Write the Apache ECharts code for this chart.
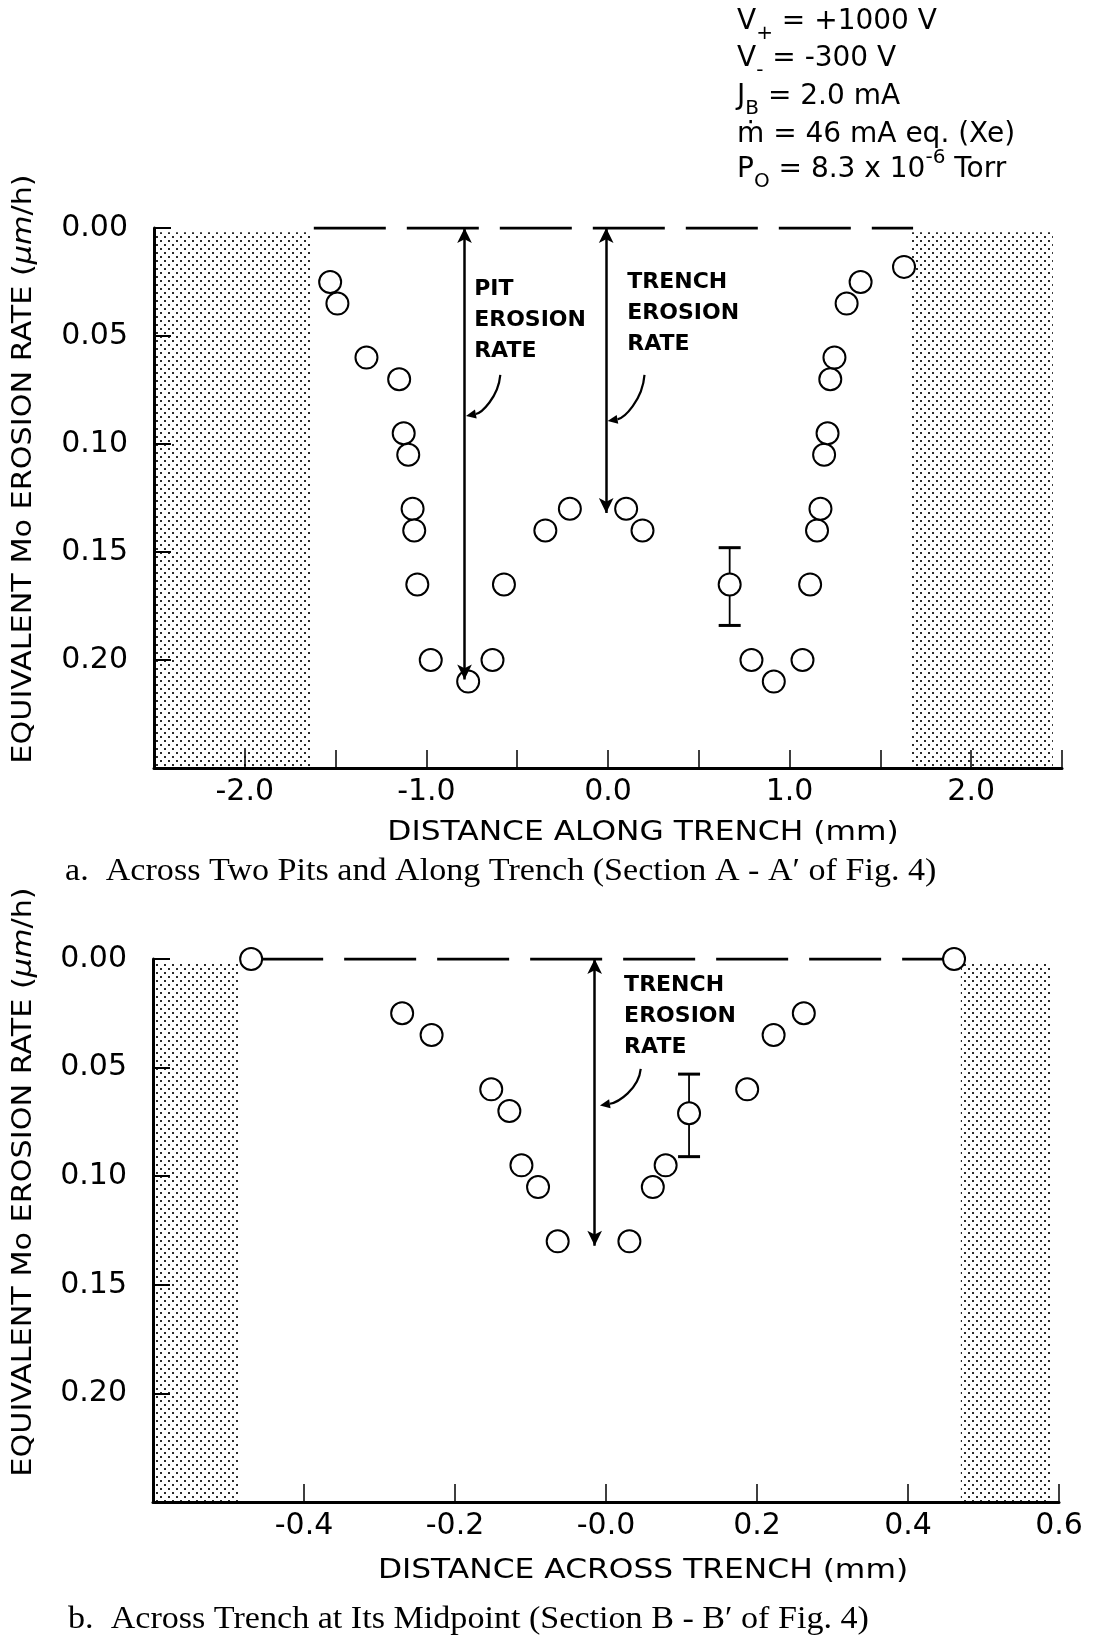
<!DOCTYPE html>
<html>
<head>
<meta charset="utf-8">
<script src="https://cdn.jsdelivr.net/npm/echarts@6/dist/echarts.min.js"></script>
<style>
  html, body { margin: 0; padding: 0; background: #fff; }
  #main { width: 1095px; height: 1642px; }
</style>
</head>
<body>
<div id="main"></div>
<script>
// a. section A-A' : across two pits and along trench
var alongX    = [-1.53, -1.49, -1.33, -1.15, -1.125, -1.10, -1.076, -1.067, -1.05, -0.976, -0.77, -0.636, -0.573, -0.345, -0.21,
                 0.10, 0.19, 0.67, 0.79, 0.913, 1.071, 1.113, 1.151, 1.17, 1.19, 1.209, 1.224, 1.247, 1.314, 1.391, 1.63];
var alongRate = [0.025, 0.035, 0.060, 0.070, 0.095, 0.105, 0.130, 0.140, 0.165, 0.200, 0.210, 0.200, 0.165, 0.140, 0.130,
                 0.130, 0.140, 0.165, 0.200, 0.210, 0.200, 0.165, 0.140, 0.130, 0.105, 0.095, 0.070, 0.060, 0.035, 0.025, 0.018];
var alongErrX = [0.67], alongErrLow = [0.148], alongErrHigh = [0.184];

// b. section B-B' : across trench at its midpoint
var acrossX    = [-0.47, -0.27, -0.231, -0.152, -0.128, -0.112, -0.09, -0.064, 0.031, 0.062, 0.079, 0.110, 0.187, 0.222, 0.262, 0.461];
var acrossRate = [0.000, 0.025, 0.035, 0.060, 0.070, 0.095, 0.105, 0.130, 0.130, 0.105, 0.095, 0.071, 0.060, 0.035, 0.025, 0.000];
var acrossErrX = [0.11], acrossErrLow = [0.053], acrossErrHigh = [0.091];

// tick labels
var rateTicks   = [0, 0.05, 0.10, 0.15, 0.20];
var alongTicks  = [-2, -1, 0, 1, 2];
var alongTickLabels = ['-2.0', '-1.0', '0.0', '1.0', '2.0'];
var acrossTicks = [-0.4, -0.2, 0, 0.2, 0.4, 0.6];
var acrossTickLabels = ['-0.4', '-0.2', '-0.0', '0.2', '0.4', '0.6'];

// shaded (masked) regions and reference lines
var alongShade  = [[-2.5, -1.63], [1.67, 2.45]];
var acrossShade = [[-0.6, -0.487], [0.47, 0.59]];
var alongBase   = [-1.62, 1.68];
var acrossBase  = [-0.47, 0.461];

var SANS = 'DejaVu Sans';
var SERIF = 'Liberation Serif';

function dots() {
  var c = document.createElement('canvas');
  c.width = 8; c.height = 8;
  var g = c.getContext('2d');
  g.fillStyle = '#fff'; g.fillRect(0, 0, 8, 8);
  g.fillStyle = '#2a2a2a';
  g.fillRect(0, 0, 2, 2);
  g.fillRect(4, 4, 2, 2);
  return c;
}
var shadeColor = { image: dots(), repeat: 'repeat' };

function pick(ticks, labels) {
  return function (v) {
    for (var i = 0; i < ticks.length; i++) {
      if (Math.abs(v - ticks[i]) < 1e-6) return labels[i];
    }
    return '';
  };
}

function xAxisOf(grid, min, max, step, ticks, labels) {
  return {
    gridIndex: grid, type: 'value', min: min, max: max, interval: step, z: 5,
    axisLine: { onZero: false, lineStyle: { color: '#000', width: 3 } },
    axisTick: { inside: true, length: 18, lineStyle: { color: '#000', width: 1.5 } },
    axisLabel: { margin: 9, color: '#000', fontFamily: SANS, fontSize: 30, lineHeight: 30,
                 showMaxLabel: true, showMinLabel: true, formatter: pick(ticks, labels) },
    splitLine: { show: false }
  };
}
function yAxisOf(grid) {
  return {
    gridIndex: grid, type: 'value', min: 0, max: 0.25, interval: 0.05, inverse: true, z: 5,
    axisLine: { onZero: false, lineStyle: { color: '#000', width: 3 } },
    axisTick: { inside: true, length: 17, lineStyle: { color: '#000', width: 2 } },
    axisLabel: { margin: 26, color: '#000', fontFamily: SANS, fontSize: 30,
                 formatter: pick(rateTicks, rateTicks.map(function (t) { return t.toFixed(2); })) },
    splitLine: { show: false }
  };
}

function baseSeries(grid, base, shade, arrows) {
  return {
    type: 'line', xAxisIndex: grid, yAxisIndex: grid, silent: true, z: 2,
    data: [[base[0], 0], [base[1], 0]], symbol: 'none',
    lineStyle: { color: '#000', width: 3, type: [72, 21] },
    markArea: {
      silent: true,
      itemStyle: { color: shadeColor, opacity: 1, borderWidth: 0 },
      data: shade.map(function (s) { return [{ coord: [s[0], 0.002] }, { coord: [s[1], 0.25] }]; })
    },
    markLine: {
      silent: true, symbol: ['arrow', 'arrow'], symbolSize: [11, 15],
      label: { show: false },
      lineStyle: { color: '#000', width: 2.5, type: 'solid' },
      data: arrows.map(function (a) { return [{ coord: [a[0], 0] }, { coord: [a[0], a[1]] }]; })
    }
  };
}
function errSeries(grid, xs, lo, hi) {
  return {
    type: 'custom', xAxisIndex: grid, yAxisIndex: grid, silent: true, z: 3,
    data: xs.map(function (x, i) { return [x, lo[i], hi[i]]; }),
    renderItem: function (params, api) {
      var a = api.coord([api.value(0), api.value(1)]);
      var b = api.coord([api.value(0), api.value(2)]);
      var w = 11, st = { stroke: '#000', lineWidth: 3 };
      return { type: 'group', children: [
        { type: 'line', shape: { x1: a[0], y1: a[1], x2: b[0], y2: b[1] }, style: { stroke: '#000', lineWidth: 1.8 } },
        { type: 'line', shape: { x1: a[0] - w, y1: a[1], x2: a[0] + w, y2: a[1] }, style: st },
        { type: 'line', shape: { x1: b[0] - w, y1: b[1], x2: b[0] + w, y2: b[1] }, style: st }
      ] };
    }
  };
}
function dotSeries(grid, xs, ys) {
  return {
    type: 'scatter', xAxisIndex: grid, yAxisIndex: grid, silent: true, z: 4,
    symbol: 'circle', symbolSize: 22,
    itemStyle: { color: '#fff', borderColor: '#000', borderWidth: 2, opacity: 1 },
    data: xs.map(function (x, i) { return [x, ys[i]]; })
  };
}

var chart = echarts.init(document.getElementById('main'));
chart.setOption({
  animation: false,
  backgroundColor: '#fff',
  grid: [
    { left: 154, top: 228, width: 908, height: 540 },
    { left: 153, top: 959, width: 906, height: 543 }
  ],
  xAxis: [
    xAxisOf(0, -2.5, 2.5, 0.5, alongTicks, alongTickLabels),
    xAxisOf(1, -0.6, 0.6, 0.2, acrossTicks, acrossTickLabels)
  ],
  yAxis: [yAxisOf(0), yAxisOf(1)],
  series: [
    baseSeries(0, alongBase, alongShade, [[-0.79, 0.209], [-0.01, 0.132]]),
    errSeries(0, alongErrX, alongErrLow, alongErrHigh),
    dotSeries(0, alongX, alongRate),
    baseSeries(1, acrossBase, acrossShade, [[-0.015, 0.132]]),
    errSeries(1, acrossErrX, acrossErrLow, acrossErrHigh),
    dotSeries(1, acrossX, acrossRate)
  ]
});

// annotations
function px(g, p) { return chart.convertToPixel({ gridIndex: g }, p); }

function pointer(g, from, to) {
  var p1 = px(g, from), p2 = px(g, to);
  var cp1 = [p1[0] - 2, p1[1] + (p2[1] - p1[1]) * 0.55];
  var cp2 = [p2[0] + (p1[0] - p2[0]) * 0.45, p2[1] - 3];
  var ang = Math.atan2(p2[1] - cp2[1], p2[0] - cp2[0]);
  var L = 10, W = 4.5;
  var back = [p2[0] - L * Math.cos(ang), p2[1] - L * Math.sin(ang)];
  var nx = -Math.sin(ang) * W, ny = Math.cos(ang) * W;
  return [
    { type: 'bezierCurve', silent: true,
      shape: { x1: p1[0], y1: p1[1], x2: back[0], y2: back[1], cpx1: cp1[0], cpy1: cp1[1], cpx2: cp2[0], cpy2: cp2[1] },
      style: { stroke: '#000', lineWidth: 2.2, fill: 'none' } },
    { type: 'polygon', silent: true,
      shape: { points: [p2, [back[0] + nx, back[1] + ny], [back[0] - nx, back[1] - ny]] },
      style: { fill: '#000' } }
  ];
}

function note(g, at, text) {
  var p = px(g, at);
  return { type: 'text', silent: true, x: p[0], y: p[1],
    style: { text: text, fill: '#000', fontFamily: SANS, fontWeight: 'bold', fontSize: 22, lineHeight: 31,
             align: 'left', verticalAlign: 'middle' } };
}

function txt(x, y, text, o) {
  o = o || {};
  return { type: 'text', silent: true, x: x, y: y, scaleX: o.scale || 1, rotation: o.rot || 0,
    style: { text: text, fill: '#000', fontFamily: o.family || SANS, fontSize: o.size || 27,
             align: o.align || 'center', verticalAlign: 'middle', lineHeight: o.lh,
             rich: o.rich } };
}

var paramRich = {
  n:   { fontFamily: SANS, fontSize: 28, lineHeight: 44, verticalAlign: 'middle' },
  sub: { fontFamily: SANS, fontSize: 20, lineHeight: 16, verticalAlign: 'bottom' },
  sup: { fontFamily: SANS, fontSize: 20, lineHeight: 28, verticalAlign: 'top' }
};
var yNameRich = {
  n:  { fontFamily: SANS, fontSize: 27 },
  it: { fontFamily: SANS, fontSize: 27, fontStyle: 'italic' }
};
var yName = '{n|EQUIVALENT Mo EROSION RATE (}{it|\u03bcm}{n|/h)}';

var gfx = [].concat(
  pointer(0, [-0.593, 0.068], [-0.782, 0.087]),
  pointer(0, [0.201, 0.068], [-0.002, 0.0894]),
  pointer(1, [0.046, 0.0506], [-0.008, 0.0674]),
  [
    note(0, [-0.737, 0.0429], 'PIT\nEROSION\nRATE'),
    note(0, [0.106, 0.0394], 'TRENCH\nEROSION\nRATE'),
    note(1, [0.024, 0.0263], 'TRENCH\nEROSION\nRATE'),

    txt(737, 22,  '{n|V}{sub|+}{n| = +1000 V}', { align: 'left', rich: paramRich }),
    txt(737, 59,  '{n|V}{sub|-}{n| = -300 V}', { align: 'left', rich: paramRich }),
    txt(737, 97,  '{n|J}{sub|B}{n| = 2.0 mA}', { align: 'left', rich: paramRich }),
    txt(737, 135, '{n|\u1e41 = 46 mA eq. (Xe)}', { align: 'left', rich: paramRich }),
    txt(737, 170, '{n|P}{sub|O}{n| = 8.3 x 10}{sup|-6}{n| Torr}', { align: 'left', rich: paramRich }),

    txt(24, 469,  yName, { rot: Math.PI / 2, scale: 1.12, rich: yNameRich }),
    txt(24, 1182, yName, { rot: Math.PI / 2, scale: 1.12, rich: yNameRich }),
    txt(643, 833,  'DISTANCE ALONG TRENCH (mm)', { scale: 1.16 }),
    txt(643, 1571, 'DISTANCE ACROSS TRENCH (mm)', { scale: 1.16 }),

    txt(65, 872,  'a.  Across Two Pits and Along Trench (Section A - A\u2032 of Fig. 4)',
        { align: 'left', family: SERIF, size: 31, scale: 1.1 }),
    txt(68, 1620, 'b.  Across Trench at Its Midpoint (Section B - B\u2032 of Fig. 4)',
        { align: 'left', family: SERIF, size: 31, scale: 1.1 })
  ]
);
chart.setOption({ graphic: gfx });
</script>
</body>
</html>
